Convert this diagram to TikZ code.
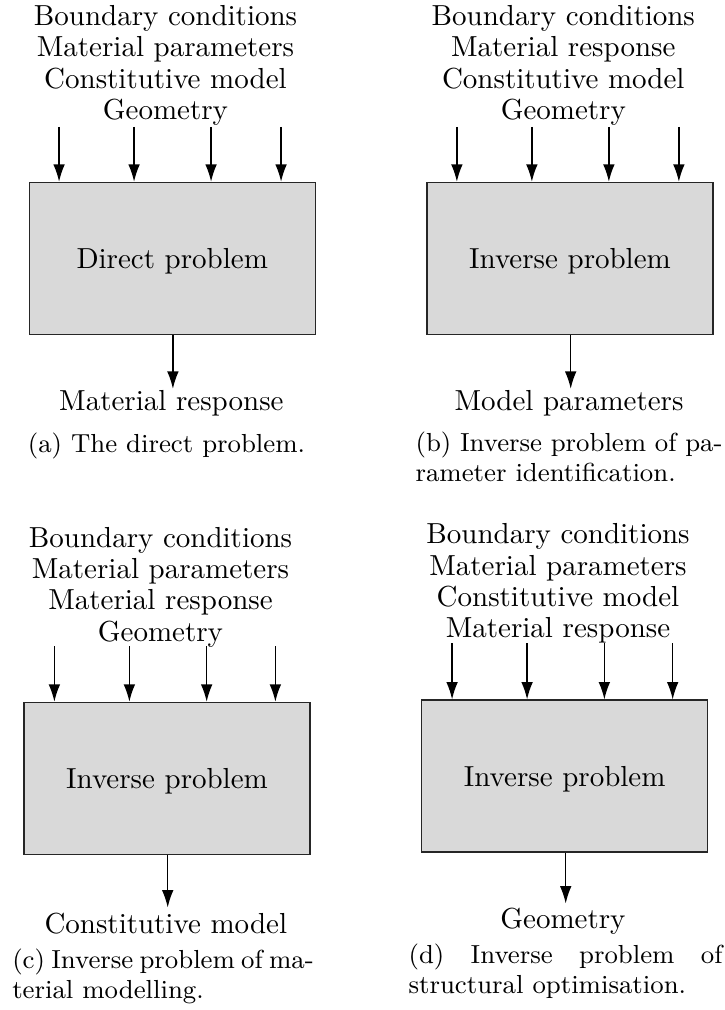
\documentclass[tikz,border=0pt]{standalone}
\usetikzlibrary{arrows.meta, calc}

\tikzset{
    problembox/.style={draw=black!85, fill=gray!30, minimum width=98.7pt, minimum height=52.4pt,
        inner sep=0pt, text depth=0pt, font=\fontsize{10}{10.8}\selectfont},
    inputlist/.style={align=center, anchor=base, inner sep=0pt, font=\fontsize{10}{10.8}\selectfont},
    outputlabel/.style={anchor=base, inner sep=0pt, font=\fontsize{10}{10.8}\selectfont},
    subcap/.style={anchor=base west, inner sep=0pt, align=justify, font=\fontsize{9}{10.4}\selectfont},
    feed/.style={-{Latex[length=6pt, width=4pt]}, line width=0.5pt}
}

\begin{document}
\begin{tikzpicture}[x=0.345pt, y=-0.345pt]
    \useasboundingbox (0,0) rectangle (725,1010);

    % (a) direct problem
    \node[problembox] (dirbox) at (172.2,258.3) {Direct problem};
    \node[inputlist] (dirinputs) at ($(dirbox.north)+(-6.7,-62.3)$)
        {Boundary conditions\\Material parameters\\Constitutive model\\Geometry};
    \foreach \dx [count=\i] in {30.5,105.5,182.5,252.5} {
        \coordinate (dirin\i) at ($(dirbox.north west)+(\dx,-55)$);
        \draw[feed] (dirin\i) -- (dirin\i |- dirbox.north);
    }
    \coordinate (dirout) at ($(dirbox.south)+(0.7,54)$);
    \draw[feed] (dirbox.south -| dirout) -- (dirout);
    \node[outputlabel] (dirresult) at ($(dirbox.south)+(-0.8,75.7)$) {Material response};
    \node[subcap, anchor=base, align=center] (capa) at (166.5,452) {(a) The direct problem.};

    % (b) parameter identification
    \node[problembox] (parbox) at (570,258.3) {Inverse problem};
    \node[inputlist] (parinputs) at ($(parbox.north)+(-6.7,-62.3)$)
        {Boundary conditions\\Material response\\Constitutive model\\Geometry};
    \foreach \dx [count=\i] in {30.5,105.5,182.5,252.5} {
        \coordinate (parin\i) at ($(parbox.north west)+(\dx,-55)$);
        \draw[feed] (parin\i) -- (parin\i |- parbox.north);
    }
    \coordinate (parout) at ($(parbox.south)+(0.7,54)$);
    \draw[feed] (parbox.south -| parout) -- (parout);
    \node[outputlabel] (parresult) at ($(parbox.south)+(-1,75.7)$) {Model parameters};
    \node[subcap, text width=105.9pt] (capb) at (415,451.7)
        {(b) Inverse problem of pa-\linebreak rameter identification.};

    % (c) material modelling
    \node[problembox] (modbox) at (167,778.3) {Inverse problem};
    \node[inputlist] (modinputs) at ($(modbox.north)+(-6.5,-60.6)$)
        {Boundary conditions\\Material parameters\\Material response\\Geometry};
    \foreach \dx [count=\i] in {31,106,183.3,252} {
        \coordinate (modin\i) at ($(modbox.north west)+(\dx,-55.6)$);
        \draw[feed] (modin\i) -- (modin\i |- modbox.north);
    }
    \coordinate (modout) at ($(modbox.south)+(0.7,52.7)$);
    \draw[feed] (modbox.south -| modout) -- (modout);
    \node[outputlabel] (modresult) at ($(modbox.south)+(-1.2,78.7)$) {Constitutive model};
    \node[subcap, text width=104pt] (capc) at (11.7,968.3)
        {(c) Inverse problem of ma-\linebreak terial modelling.};

    % (d) structural optimisation
    \node[problembox] (optbox) at (564.7,776) {Inverse problem};
    \node[inputlist] (optinputs) at ($(optbox.north)+(-6.7,-61.7)$)
        {Boundary conditions\\Material parameters\\Constitutive model\\Material response};
    \foreach \dx [count=\i] in {31,106,183.3,251.6} {
        \coordinate (optin\i) at ($(optbox.north west)+(\dx,-56)$);
        \draw[feed] (optin\i) -- (optin\i |- optbox.north);
    }
    \coordinate (optout) at ($(optbox.south)+(1,51)$);
    \draw[feed] (optbox.south -| optout) -- (optout);
    \node[outputlabel] (optresult) at ($(optbox.south)+(-1.7,75.7)$) {Geometry};
    \node[subcap, text width=108.3pt] (capd) at (408,963.3)
        {(d) Inverse problem of\linebreak structural optimisation.};
\end{tikzpicture}
\end{document}
